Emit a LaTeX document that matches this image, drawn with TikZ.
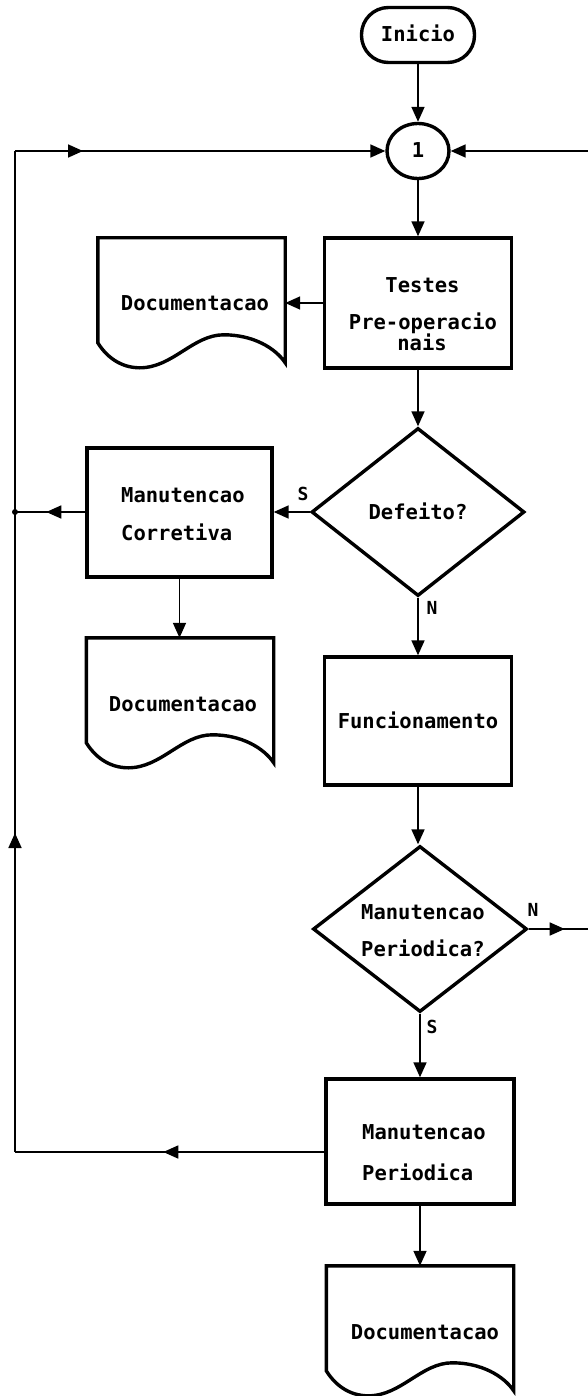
\documentclass[tikz,border=0pt]{standalone}
\usepackage{fontspec}
\newfontfamily\boxfont{DejaVu Sans Mono}
\usetikzlibrary{arrows.meta,shapes.geometric,decorations.markings,calc}
\tikzset{
  shp/.style={draw, line width=3.4pt, inner sep=0pt, line join=miter},
  boxs/.style={shp, rectangle},
  conn/.style={line width=1.7pt},
  tip/.style={-{Triangle[length=15pt,width=13pt]}},
  arr/.style={conn, tip},
  txt/.style={font=\boxfont\bfseries\fontsize{20.5}{24}\selectfont, text height=14pt, text depth=0pt, inner sep=0pt},
  lbl/.style={font=\boxfont\bfseries\fontsize{18}{20}\selectfont, text height=13pt, text depth=0pt, inner sep=0pt},
  midarr/.style={conn, postaction={decorate}, decoration={markings, mark=at position #1 with {\arrow{Triangle[length=15pt,width=13pt]}}}},
  docn/.style={rectangle, minimum width=187pt, minimum height=130pt, inner sep=0pt},
}
\newcommand\docshape[1]{%
  \draw[shp] (#1.north west) -- (#1.north east) -- ($(#1.north east)+(0,125)$)
    .. controls ($(#1.north east)+(-10,110)$) and ($(#1.north west)+(155,97)$) .. ($(#1.north west)+(126,97)$)
    .. controls ($(#1.north west)+(95,97)$) and ($(#1.north west)+(75,130)$) .. ($(#1.north west)+(42,130)$)
    .. controls ($(#1.north west)+(22,130)$) and ($(#1.north west)+(8,118)$) .. ($(#1.north west)+(0,105)$)
    -- cycle;}
\begin{document}
\begin{tikzpicture}[x=1pt,y=-1pt]
\useasboundingbox[fill=white] (0,0) rectangle (588,1396);

% shapes
\node[shp, rectangle, rounded corners=27pt, minimum width=113pt, minimum height=55pt, txt] (ini) at (418,35) {Inicio};
\node[shp, ellipse, minimum width=62pt, minimum height=55pt, txt] (c1) at (418,151) {1};
\node[boxs, minimum width=187pt, minimum height=130pt] (tst) at (418,303) {};
\node[docn] (d1) at (191.5,303) {};
\node[shp, diamond, minimum width=213pt, minimum height=168pt, txt] (def) at (418,512) {Defeito?};
\node[boxs, minimum width=185pt, minimum height=129pt] (cor) at (179.5,512.5) {};
\node[docn] (d2) at (180,703) {};
\node[boxs, minimum width=187pt, minimum height=128pt, txt] (fun) at (418,721) {Funcionamento};
\node[shp, diamond, minimum width=214pt, minimum height=166pt] (mp) at (420,929) {};
\node[boxs, minimum width=188pt, minimum height=125pt] (per) at (420,1141.5) {};
\node[docn] (d3) at (420,1331) {};

\docshape{d1}
\docshape{d2}
\docshape{d3}

% texts
\node[txt] (d1t) at (195,304) {Documentacao};
\node[txt] (d2t) at (183,704) {Documentacao};
\node[txt] (d3t) at (425,1332) {Documentacao};
\node[txt] (tA) at (422.5,286) {Testes};
\node[txt] (tB) at (423,322) {Pre-operacio};
\node[txt] (tC) at (422,343) {nais};
\node[txt, anchor=west] (cA) at (121,495) {Manutencao};
\node[txt, anchor=west] (cB) at (121,533) {Corretiva};
\node[txt, anchor=west] (mA) at (361,912) {Manutencao};
\node[txt, anchor=west] (mB) at (361,949) {Periodica?};
\node[txt, anchor=west] (pA) at (362,1132) {Manutencao};
\node[txt, anchor=west] (pB) at (362,1173) {Periodica};

% labels
\node[lbl] (s1) at (303,494) {S};
\node[lbl] (n1) at (432,608) {N};
\node[lbl] (n2) at (533,910) {N};
\node[lbl] (s2) at (432,1027) {S};

% free-end coordinates
\coordinate (jn) at (15,512);
\coordinate (lt) at (15,151);
\coordinate (lb) at (15,1152);
\coordinate (rt) at (588,151);
\coordinate (re) at (588,929);

% connectors
\draw[arr] (ini.south) -- (c1.north);
\draw[arr] (c1.south) -- (tst.north);
\draw[arr] (tst.west) -- (d1.east);
\draw[arr] (tst.south) -- (def.north);
\draw[arr] (def.west) -- (cor.east |- def.west);
\draw[midarr=39pt] (cor.west |- jn) -- (jn);
\fill (jn) circle (3pt);
\draw[arr] (cor.south) -- (cor.south |- d2.north);
\draw[arr] (def.south) -- (fun.north);
\draw[arr] (fun.south) -- (fun.south |- mp.north);
\draw[midarr=36pt] (mp.east) -- (re);
\draw[arr] (mp.south) -- (per.north);
\draw[midarr=161pt] (per.west |- lb) -- (lb);
\draw[midarr=319pt] (lb) -- (lt);
\draw[midarr=68pt, tip] (lt) -- (c1.west);
\draw[arr] (rt) -- (c1.east);
\draw[arr] (per.south) -- (per.south |- d3.north);
\end{tikzpicture}
\end{document}
